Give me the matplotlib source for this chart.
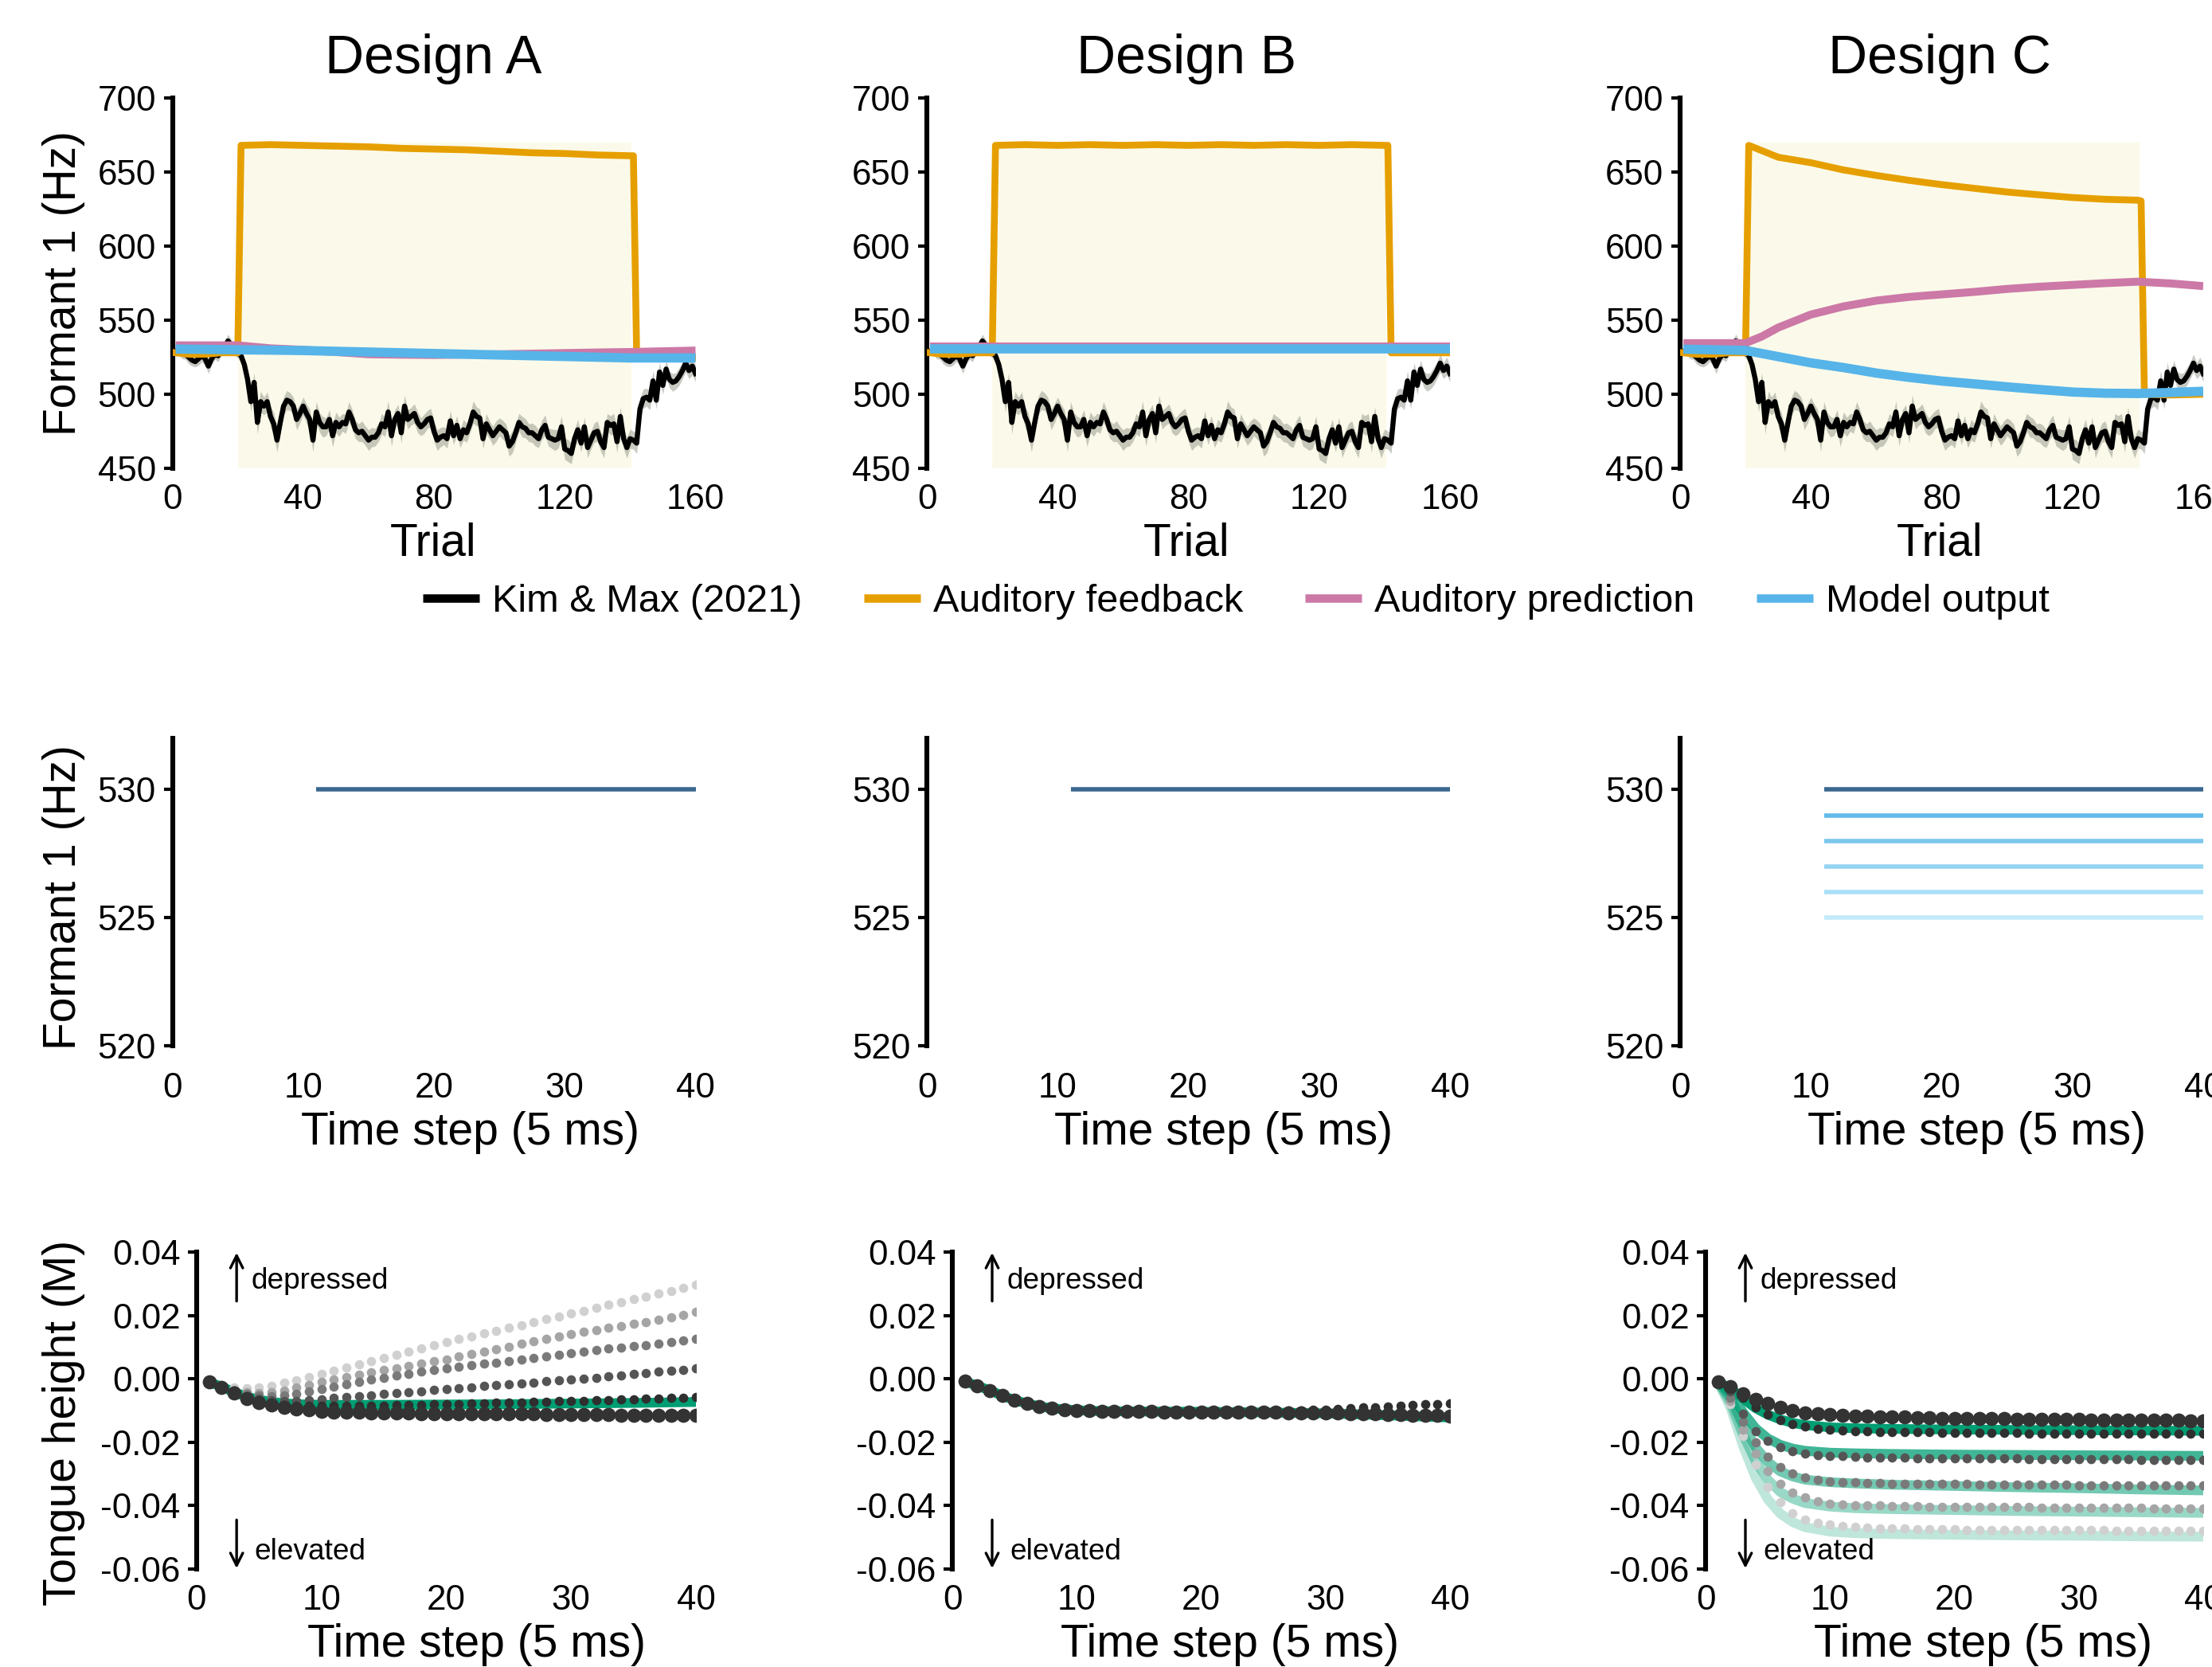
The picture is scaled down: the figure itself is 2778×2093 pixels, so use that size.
import matplotlib
matplotlib.use('Agg')
import matplotlib.pyplot as plt
from matplotlib.lines import Line2D
import numpy as np

plt.rcParams['font.family'] = ['Liberation Sans', 'DejaVu Sans']
plt.rcParams['axes.unicode_minus'] = False

# ------------------------------------------------------------------ data
designs = ['Design A', 'Design B', 'Design C']
legend_labels = ['Kim & Max (2021)', 'Auditory feedback', 'Auditory prediction', 'Model output']

trials = list(range(1, 161))
kim_max = [529, 530, 528, 527, 525, 523, 522, 524, 526, 524, 519, 524, 527, 526, 530, 532, 536, 533, 530, 528,
           526, 520, 510, 495, 508, 481, 495, 492, 495, 485, 480, 469, 481, 492, 496, 495, 492, 483, 487, 492,
           487, 483, 469, 488, 481, 478, 478, 483, 472, 481, 478, 481, 480, 488, 483, 476, 474, 475, 472, 469,
           471, 471, 474, 480, 478, 488, 472, 483, 487, 474, 492, 483, 485, 487, 481, 478, 480, 483, 484, 475,
           469, 471, 472, 470, 482, 472, 479, 470, 476, 474, 480, 488, 485, 484, 470, 480, 476, 472, 475, 478,
           476, 474, 465, 468, 474, 481, 478, 477, 474, 474, 472, 470, 476, 479, 471, 470, 469, 470, 478, 463,
           462, 460, 470, 476, 467, 478, 464, 469, 474, 475, 468, 464, 481, 479, 480, 468, 485, 470, 464, 470,
           469, 467, 490, 497, 498, 496, 509, 496, 515, 506, 517, 510, 508, 509, 512, 516, 521, 516, 519, 514]
kim_max_se = [3, 3.5, 4, 3.5, 4.5, 4, 3.5, 4.5, 4, 4.5, 5, 4, 3.5, 4, 3.5, 4, 4.5, 4, 3.5, 3.5,
              4, 4.5, 6, 7, 6.5, 8, 7, 6, 6.5, 7, 7.5, 8, 7, 6, 6.5, 6, 6, 7, 6.5, 6,
              6.5, 7, 8, 7, 6.5, 7, 6, 6.5, 7.5, 7, 6.5, 6, 6.5, 7, 6.5, 6, 6, 7, 6.5, 7,
              6.5, 6, 6, 7, 6.5, 7.5, 7, 6.5, 6, 7, 7.5, 6.5, 6, 6.5, 7, 6, 6.5, 6, 6.5, 7,
              7, 6.5, 6, 6.5, 7, 6, 6.5, 6, 7, 6.5, 6, 7.5, 6.5, 6, 6.5, 7, 6, 6.5, 7, 6,
              6.5, 6, 7, 7.5, 6.5, 6, 7, 6.5, 6, 6.5, 7, 6, 6.5, 7, 6, 6.5, 7, 6.5, 7.5, 7,
              7.5, 7, 6.5, 7, 6, 6.5, 7, 6, 6.5, 7, 6.5, 7, 6, 6.5, 7, 7.5, 6.5, 7, 7, 6.5,
              6, 7, 7.5, 6.5, 6, 6.5, 7, 6, 6.5, 6, 6, 5.5, 6, 5.5, 6, 5.5, 6, 5.5, 6, 5.5]

perturb_trials = [20, 140.5]
perturb_top = 670

fb_x = [1, 5, 10, 15, 20, 21, 30, 40, 50, 60, 70, 80, 90, 100, 110, 120, 130, 140, 141, 142, 150, 160]
feedback_A = [528, 527, 527, 528, 528, 668, 668.5, 668, 667.5, 667, 666, 665.5, 665, 664, 663, 662.5, 661.5, 661, 661, 525, 524.5, 524.5]
feedback_B = [528, 527, 527, 528, 528, 668, 668.5, 668, 668.5, 668, 668.5, 668, 668.5, 668, 668.5, 668, 668.5, 668, 668, 528, 528, 528]
feedback_C = [528, 527, 527, 528, 528, 668, 660, 656.3, 651.4, 647.7, 644.4, 641.5, 639, 636.5, 634.6, 632.8, 631.6, 631, 630.5, 500, 499.5, 500]

sm_x = [1, 20, 25, 30, 40, 50, 60, 70, 80, 90, 100, 110, 120, 130, 140, 150, 160]
prediction_A = [533, 533, 532, 531, 530, 528.5, 527, 526.7, 526.5, 526.8, 527, 527.4, 527.8, 528.2, 528.5, 529, 529.5]
prediction_B = [532.5, 532.5, 532.5, 532.5, 532.5, 532.5, 532.5, 532.5, 532.5, 532.5, 532.5, 532.5, 532.5, 532.5, 532.5, 532.5, 532.5]
prediction_C = [534.5, 534.5, 539, 545, 553.8, 559.3, 563.2, 565.7, 567.4, 569.1, 571.1, 572.6, 573.8, 575, 576, 574.8, 573]
output_A = [530.5, 530, 529.9, 529.8, 529.5, 529, 528.5, 528, 527.5, 527, 526.5, 526, 525.5, 525, 524.5, 524.5, 524.5]
output_B = [530.5, 530.5, 530.5, 530.5, 530.5, 530.5, 530.5, 530.5, 530.5, 530.5, 530.5, 530.5, 530.5, 530.5, 530.5, 530.5, 530.5]
output_C = [530.4, 529.6, 527.5, 525.4, 521.2, 518, 514.3, 511.4, 508.9, 507, 505, 503.2, 501.5, 500.7, 500.5, 501.2, 502]

# middle row: formant 1 targets per time step
mid_x = [11, 40]
mid_levels_A = [530]
mid_levels_B = [530]
mid_levels_C = [530, 529, 528, 527, 526, 525]
mid_colors = ['#3B6790', '#62BAE8', '#7CC7ED', '#95D4F2', '#AADFF6', '#C2EBFA']

# bottom row: tongue height per time step
steps = list(range(1, 41))
A_big = [-0.0010, -0.0026, -0.0045, -0.0062, -0.0074, -0.0083, -0.0089, -0.0094, -0.0098, -0.0102,
         -0.0104, -0.0105, -0.0106, -0.0107, -0.0107, -0.0108, -0.0108, -0.0109, -0.0109, -0.0109,
         -0.0110, -0.0110, -0.0110, -0.0111, -0.0111, -0.0111, -0.0111, -0.0112, -0.0112, -0.0112,
         -0.0113, -0.0113, -0.0113, -0.0114, -0.0114, -0.0114, -0.0115, -0.0115, -0.0115, -0.0116]
A_s2 = [-0.0010, -0.0026, -0.0044, -0.0060, -0.0071, -0.0079, -0.0083, -0.0085, -0.0086, -0.0086,
        -0.0086, -0.0085, -0.0085, -0.0084, -0.0084, -0.0083, -0.0082, -0.0082, -0.0081, -0.0080,
        -0.0079, -0.0078, -0.0077, -0.0076, -0.0075, -0.0074, -0.0073, -0.0072, -0.0071, -0.0070,
        -0.0069, -0.0068, -0.0067, -0.0066, -0.0065, -0.0063, -0.0062, -0.0060, -0.0059, -0.0057]
A_s3 = [-0.0010, -0.0025, -0.0041, -0.0054, -0.0062, -0.0067, -0.0069, -0.0069, -0.0067, -0.0064,
        -0.0061, -0.0058, -0.0055, -0.0052, -0.0048, -0.0045, -0.0042, -0.0039, -0.0035, -0.0032,
        -0.0029, -0.0026, -0.0023, -0.0020, -0.0017, -0.0014, -0.0011, -0.0008, -0.0005, -0.0002,
        0.0001, 0.0004, 0.0008, 0.0011, 0.0015, 0.0018, 0.0022, 0.0025, 0.0029, 0.0033]
A_s4 = [-0.0010, -0.0024, -0.0038, -0.0048, -0.0053, -0.0054, -0.0052, -0.0046, -0.0039, -0.0031,
        -0.0024, -0.0017, -0.0010, -0.0003, 0.0004, 0.0010, 0.0016, 0.0022, 0.0027, 0.0032,
        0.0037, 0.0042, 0.0047, 0.0052, 0.0057, 0.0062, 0.0067, 0.0072, 0.0077, 0.0082,
        0.0087, 0.0091, 0.0095, 0.0099, 0.0103, 0.0107, 0.0111, 0.0115, 0.0120, 0.0125]
A_s5 = [-0.0010, -0.0023, -0.0035, -0.0042, -0.0044, -0.0042, -0.0036, -0.0028, -0.0019, -0.0010,
        -0.0002, 0.0006, 0.0013, 0.0020, 0.0027, 0.0034, 0.0041, 0.0048, 0.0055, 0.0062,
        0.0070, 0.0078, 0.0086, 0.0094, 0.0102, 0.0110, 0.0118, 0.0126, 0.0134, 0.0142,
        0.0149, 0.0155, 0.0161, 0.0167, 0.0173, 0.0180, 0.0187, 0.0194, 0.0202, 0.0211]
A_s6 = [-0.0010, -0.0020, -0.0028, -0.0030, -0.0027, -0.0021, -0.0013, -0.0004, 0.0005, 0.0015,
        0.0025, 0.0035, 0.0045, 0.0055, 0.0065, 0.0075, 0.0085, 0.0095, 0.0105, 0.0115,
        0.0125, 0.0134, 0.0143, 0.0152, 0.0161, 0.0170, 0.0179, 0.0188, 0.0197, 0.0206,
        0.0215, 0.0224, 0.0233, 0.0242, 0.0251, 0.0260, 0.0269, 0.0278, 0.0287, 0.0296]

B_big = [-0.0008, -0.0022, -0.0036, -0.0053, -0.0067, -0.0078, -0.0087, -0.0093, -0.0097, -0.0099,
         -0.0101, -0.0102, -0.0102, -0.0103, -0.0103, -0.0103, -0.0104, -0.0104, -0.0104, -0.0104,
         -0.0105, -0.0105, -0.0105, -0.0106, -0.0106, -0.0106, -0.0107, -0.0107, -0.0107, -0.0108,
         -0.0108, -0.0109, -0.0110, -0.0111, -0.0112, -0.0113, -0.0114, -0.0115, -0.0116, -0.0118]
B_s2 = [-0.0008, -0.0022, -0.0036, -0.0053, -0.0067, -0.0078, -0.0087, -0.0093, -0.0097, -0.0099,
        -0.0101, -0.0102, -0.0102, -0.0103, -0.0103, -0.0103, -0.0104, -0.0104, -0.0104, -0.0104,
        -0.0104, -0.0104, -0.0103, -0.0103, -0.0102, -0.0101, -0.0100, -0.0099, -0.0098, -0.0097,
        -0.0095, -0.0093, -0.0091, -0.0089, -0.0087, -0.0085, -0.0083, -0.0081, -0.0080, -0.0078]

C_big = [-0.0010, -0.0024, -0.0047, -0.0064, -0.0078, -0.0090, -0.0099, -0.0107, -0.0110, -0.0113,
         -0.0115, -0.0117, -0.0118, -0.0119, -0.0120, -0.0121, -0.0122, -0.0123, -0.0124, -0.0125,
         -0.0125, -0.0126, -0.0126, -0.0126, -0.0127, -0.0127, -0.0127, -0.0128, -0.0128, -0.0128,
         -0.0129, -0.0129, -0.0129, -0.0130, -0.0130, -0.0130, -0.0131, -0.0131, -0.0132, -0.0132]
C_s2 = [-0.0010, -0.0030, -0.0060, -0.0090, -0.0112, -0.0129, -0.0142, -0.0151, -0.0157, -0.0161,
        -0.0163, -0.0165, -0.0166, -0.0167, -0.0168, -0.0168, -0.0169, -0.0169, -0.0170, -0.0170,
        -0.0170, -0.0171, -0.0171, -0.0171, -0.0171, -0.0172, -0.0172, -0.0172, -0.0172, -0.0172,
        -0.0173, -0.0173, -0.0173, -0.0173, -0.0173, -0.0174, -0.0174, -0.0174, -0.0174, -0.0174]
C_s3 = [-0.0010, -0.0040, -0.0110, -0.0165, -0.0196, -0.0215, -0.0228, -0.0235, -0.0240, -0.0243,
        -0.0244, -0.0246, -0.0247, -0.0248, -0.0249, -0.0249, -0.0250, -0.0250, -0.0251, -0.0251,
        -0.0251, -0.0252, -0.0252, -0.0252, -0.0252, -0.0253, -0.0253, -0.0253, -0.0253, -0.0254,
        -0.0254, -0.0254, -0.0254, -0.0254, -0.0255, -0.0255, -0.0255, -0.0255, -0.0255, -0.0256]
C_s4 = [-0.0010, -0.0060, -0.0135, -0.0200, -0.0245, -0.0278, -0.0298, -0.0311, -0.0318, -0.0323,
        -0.0325, -0.0327, -0.0328, -0.0329, -0.0330, -0.0330, -0.0331, -0.0331, -0.0332, -0.0332,
        -0.0332, -0.0333, -0.0333, -0.0333, -0.0333, -0.0334, -0.0334, -0.0334, -0.0334, -0.0335,
        -0.0335, -0.0335, -0.0335, -0.0335, -0.0336, -0.0336, -0.0336, -0.0336, -0.0336, -0.0336]
C_s5 = [-0.0010, -0.0070, -0.0160, -0.0235, -0.0290, -0.0330, -0.0358, -0.0375, -0.0386, -0.0393,
        -0.0396, -0.0398, -0.0399, -0.0400, -0.0401, -0.0402, -0.0402, -0.0403, -0.0403, -0.0404,
        -0.0404, -0.0404, -0.0405, -0.0405, -0.0405, -0.0405, -0.0406, -0.0406, -0.0406, -0.0406,
        -0.0407, -0.0407, -0.0407, -0.0407, -0.0407, -0.0408, -0.0408, -0.0408, -0.0408, -0.0408]
C_s6 = [-0.0010, -0.0080, -0.0180, -0.0270, -0.0340, -0.0390, -0.0425, -0.0445, -0.0455, -0.0460,
        -0.0465, -0.0468, -0.0470, -0.0471, -0.0472, -0.0473, -0.0474, -0.0474, -0.0475, -0.0475,
        -0.0476, -0.0476, -0.0476, -0.0477, -0.0477, -0.0477, -0.0477, -0.0478, -0.0478, -0.0478,
        -0.0478, -0.0478, -0.0479, -0.0479, -0.0479, -0.0479, -0.0479, -0.0479, -0.0479, -0.0479]

green_x = [1, 2, 3, 4, 5, 6, 7, 8, 10, 12, 15, 20, 25, 30, 35, 40]
A_green = [[-0.0010, -0.0025, -0.0042, -0.0056, -0.0066, -0.0073, -0.0077, -0.0080, -0.0082, -0.0082, -0.0082, -0.0081, -0.0080, -0.0078, -0.0076, -0.0073]]
B_green = [[-0.0008, -0.0022, -0.0036, -0.0053, -0.0067, -0.0078, -0.0087, -0.0093, -0.0099, -0.0102, -0.0103, -0.0104, -0.0106, -0.0109, -0.0115, -0.0122]]
C_green = [[-0.0010, -0.0030, -0.0062, -0.0092, -0.0113, -0.0128, -0.0139, -0.0146, -0.0153, -0.0156, -0.0158, -0.0160, -0.0161, -0.0162, -0.0163, -0.0164],
           [-0.0010, -0.0045, -0.0105, -0.0155, -0.0188, -0.0208, -0.0220, -0.0227, -0.0233, -0.0235, -0.0237, -0.0239, -0.0240, -0.0241, -0.0242, -0.0243],
           [-0.0010, -0.0060, -0.0145, -0.0215, -0.0262, -0.0292, -0.0308, -0.0318, -0.0326, -0.0330, -0.0334, -0.0338, -0.0342, -0.0345, -0.0349, -0.0352],
           [-0.0010, -0.0075, -0.0175, -0.0258, -0.0318, -0.0357, -0.0378, -0.0392, -0.0403, -0.0408, -0.0411, -0.0414, -0.0417, -0.0419, -0.0421, -0.0423],
           [-0.0010, -0.0090, -0.0210, -0.0310, -0.0380, -0.0425, -0.0452, -0.0468, -0.0482, -0.0487, -0.0490, -0.0492, -0.0494, -0.0495, -0.0497, -0.0498]]
green_alphas = [1.0, 0.75, 0.55, 0.4, 0.25]

small_colors = ['#2F2F2F', '#555555', '#7A7A7A', '#A5A5A5', '#D0D0D0']

# ------------------------------------------------------------------ colours / style
C_BLACK = '#000000'
C_ORANGE = '#E69F00'
C_PINK = '#CC79A7'
C_BLUE = '#56B4E9'
C_GREEN = '#009E73'
C_SHADE = '#FBFAEA'

W, H = 2778, 2093
DPI = 200
fig = plt.figure(figsize=(W / DPI, H / DPI), dpi=DPI)
fig.patch.set_facecolor('white')

TICK_FS = 15.8
LAB_FS = 20.5


def add_ax(l, t, r, b):
    return fig.add_axes([l / W, 1 - b / H, (r - l) / W, (b - t) / H])


def style(ax, xpad):
    for s in ['top', 'right', 'bottom']:
        ax.spines[s].set_visible(False)
    ax.spines['left'].set_linewidth(2.2)
    ax.tick_params(axis='y', length=3.8, width=1.5, pad=3.6, labelsize=TICK_FS, color='black')
    ax.tick_params(axis='x', length=0, pad=xpad, labelsize=TICK_FS)
    ax.set_facecolor('none')


top_lefts = [216.5, 1164, 2110]
top_width = 657
bot_lefts = [247, 1196, 2142]
bot_rights = [874, 1821, 2767]

feedbacks = [feedback_A, feedback_B, feedback_C]
predictions = [prediction_A, prediction_B, prediction_C]
outputs = [output_A, output_B, output_C]
mid_levels = [mid_levels_A, mid_levels_B, mid_levels_C]
trial_centers = [544, 1490, 2436]
mid_xlab = [591, 1537, 2482]
bot_xlab = [598, 1544, 2490]

bottom_series = [
    (A_big, [A_s2, A_s3, A_s4, A_s5, A_s6], A_green),
    (B_big, [B_s2], B_green),
    (C_big, [C_s2, C_s3, C_s4, C_s5, C_s6], C_green),
]

kim_lo = [m - s for m, s in zip(kim_max, kim_max_se)]
kim_hi = [m + s for m, s in zip(kim_max, kim_max_se)]

for i in range(3):
    # ---------------- top row
    ax = add_ax(top_lefts[i], 123, top_lefts[i] + top_width, 588)
    style(ax, 7)
    ax.fill_between(perturb_trials, [450, 450], [perturb_top, perturb_top], color=C_SHADE, lw=0, zorder=0)
    ax.fill_between(trials, kim_lo, kim_hi, color='#878A7D', alpha=0.45, lw=0, zorder=1)
    ax.plot(trials, kim_max, color=C_BLACK, lw=2.3, zorder=2, solid_joinstyle='round')
    ax.plot(fb_x, feedbacks[i], color=C_ORANGE, lw=3.1, zorder=3, solid_joinstyle='round')
    ax.plot(sm_x, predictions[i], color=C_PINK, lw=3.6, zorder=4, solid_capstyle='butt')
    ax.plot(sm_x, outputs[i], color=C_BLUE, lw=4.2, zorder=5, solid_capstyle='butt')
    ax.set_xlim(0, 160)
    ax.set_ylim(450, 700)
    ax.set_xticks([0, 40, 80, 120, 160])
    ax.set_yticks([450, 500, 550, 600, 650, 700])
    fig.text(trial_centers[i] / W, 1 - 92 / H, designs[i], ha='center', va='baseline', fontsize=24.5)
    fig.text(trial_centers[i] / W, 1 - 698 / H, 'Trial', ha='center', va='baseline', fontsize=LAB_FS)

    # ---------------- middle row
    ax2 = add_ax(top_lefts[i], 927, top_lefts[i] + top_width, 1313)
    style(ax2, 12)
    levels = mid_levels[i]
    for k in range(len(levels) - 1, -1, -1):
        ax2.plot(mid_x, [levels[k], levels[k]], color=mid_colors[k], lw=2.0, solid_capstyle='butt')
    ax2.set_xlim(0, 40)
    ax2.set_ylim(520, 532)
    ax2.set_xticks([0, 10, 20, 30, 40])
    ax2.set_yticks([520, 525, 530])
    fig.text(mid_xlab[i] / W, 1 - 1437 / H, 'Time step (5 ms)', ha='center', va='baseline', fontsize=LAB_FS)

    # ---------------- bottom row
    ax3 = add_ax(bot_lefts[i], 1572, bot_rights[i], 1970)
    style(ax3, 7)
    big, smalls, greens = bottom_series[i]
    for g, gy in enumerate(greens):
        ax3.plot(green_x, gy, color=C_GREEN, alpha=green_alphas[g], lw=4.4, zorder=1, solid_capstyle='butt')
    for k in range(len(smalls) - 1, -1, -1):
        ax3.plot(steps, smalls[k], ls='none', marker='o', ms=4.2, mew=0, color=small_colors[k], zorder=2)
    ax3.plot(steps, big, ls='none', marker='o', ms=6.4, mew=0, color='#333333', zorder=3)
    ax3.set_xlim(0, 40)
    ax3.set_ylim(-0.06, 0.04)
    ax3.set_xticks([0, 10, 20, 30, 40])
    ax3.set_yticks([-0.06, -0.04, -0.02, 0.0, 0.02, 0.04])
    ax3.set_yticklabels(['%.2f' % v for v in [-0.06, -0.04, -0.02, 0.0, 0.02, 0.04]])
    ax3.annotate('', xy=(3.2, 0.0398), xytext=(3.2, 0.0245),
                 arrowprops=dict(arrowstyle='->', lw=1.2, color='black', shrinkA=0, shrinkB=0, mutation_scale=14))
    ax3.annotate('', xy=(3.2, -0.0598), xytext=(3.2, -0.0445),
                 arrowprops=dict(arrowstyle='->', lw=1.2, color='black', shrinkA=0, shrinkB=0, mutation_scale=14))
    ax3.text(4.4, 0.0308, 'depressed', fontsize=13.3, va='center', ha='left')
    ax3.text(4.6, -0.0545, 'elevated', fontsize=13.3, va='center', ha='left')
    fig.text(bot_xlab[i] / W, 1 - 2080 / H, 'Time step (5 ms)', ha='center', va='baseline', fontsize=LAB_FS)

# y labels
fig.text(80 / W, 1 - 356 / H, 'Formant 1 (Hz)', rotation=90, ha='center', va='center', fontsize=LAB_FS)
fig.text(80 / W, 1 - 1127 / H, 'Formant 1 (Hz)', rotation=90, ha='center', va='center', fontsize=LAB_FS)
fig.text(80 / W, 1 - 1786 / H, 'Tongue height (M)', rotation=90, ha='center', va='center', fontsize=LAB_FS)

# legend
handles = [Line2D([0], [0], color=c, lw=3.8, solid_capstyle='butt') for c in [C_BLACK, C_ORANGE, C_PINK, C_BLUE]]
fig.legend(handles, legend_labels, loc='center left', bbox_to_anchor=(531 / W, 1 - 756 / H),
           ncol=4, frameon=False, fontsize=17.5, handlelength=1.46, handletextpad=0.33,
           columnspacing=1.6, borderpad=0, borderaxespad=0)

fig.savefig('out.png', dpi=DPI)
